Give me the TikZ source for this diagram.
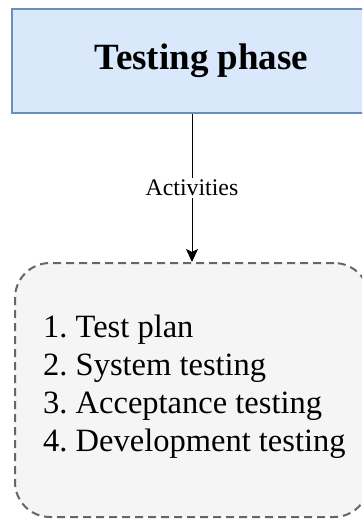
\documentclass[tikz,border=0pt]{standalone}
\usepackage{fontspec}
\setmainfont{Liberation Serif}
\usetikzlibrary{arrows.meta}
\definecolor{topfill}{HTML}{DAE8FC}
\definecolor{topline}{HTML}{6C8EBF}
\definecolor{botfill}{HTML}{F5F5F5}
\definecolor{botline}{HTML}{666666}
\tikzset{
  phasebox/.style={draw=topline, fill=topfill, line width=1.6pt, minimum width=379pt, minimum height=104pt, inner sep=0pt, font=\fontsize{37}{44}\selectfont\bfseries},
  actbox/.style={draw=botline, fill=botfill, line width=2pt, dash pattern=on 8pt off 5pt, rounded corners=35pt, minimum width=354pt, minimum height=254pt, inner sep=0pt},
  listtext/.style={align=left, inner sep=0pt, font=\fontsize{32.5}{38}\selectfont},
  conn/.style={draw=black, line width=1pt, -{Stealth[length=13pt,width=12pt,inset=3pt]}},
  connlabel/.style={fill=white, inner sep=2pt, font=\fontsize{23.8}{28}\selectfont}
}
\begin{document}
\frenchspacing
\begin{tikzpicture}[x=1pt,y=1pt]
\useasboundingbox (0,0) rectangle (362,-519);
\clip (0,0) rectangle (362,-519);
\node[phasebox] (phase) at (201.5,-61) {Testing phase};
\node[actbox] (acts) at (192,-390) {};
\node[listtext, anchor=west] (list) at (43,-387) {1. Test plan\\2. System testing\\3. Acceptance testing\\4. Development testing};
\coordinate (ax) at (192,0);
\draw[conn] (phase.south -| ax) -- node[connlabel] (lab) {Activities} (acts.north -| ax);
\end{tikzpicture}
\end{document}
